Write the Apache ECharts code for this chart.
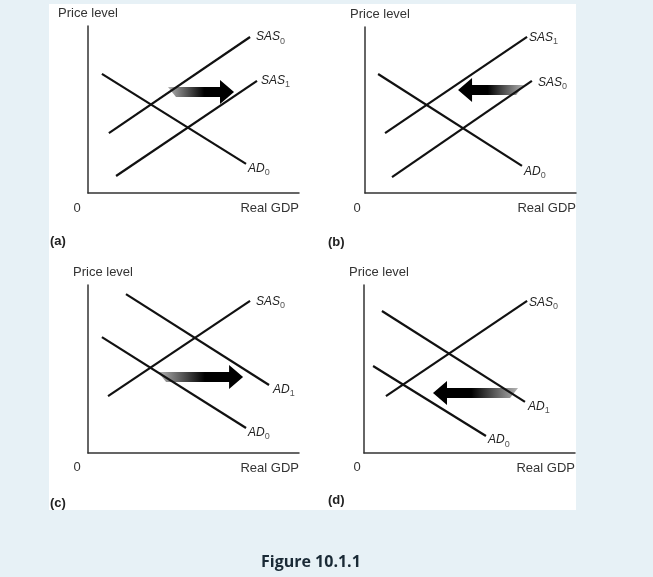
<!DOCTYPE html>
<html>
<head>
<meta charset="utf-8">
<script src="https://cdn.jsdelivr.net/npm/echarts@6/dist/echarts.min.js"></script>
<style>
  html, body { margin: 0; padding: 0; background: #e7f1f6; }
  #main { width: 653px; height: 577px; }
</style>
</head>
<body>
<div id="main"></div>
<script>
// panel (a)
const aSas0 = [[0.99, 3.59], [7.68, 9.34]];
const aSas1 = [[1.33, 1.02], [8.01, 6.71]];
const aAd0 = [[0.66, 7.13], [7.49, 1.74]];
const aArrow = [[3.98, 6.92, 6.05]]; // tail x, head x, y

// panel (b)
const bSas1 = [[0.95, 3.61], [7.68, 9.4]];
const bSas0 = [[1.28, 0.96], [7.91, 6.75]];
const bAd0 = [[0.62, 7.17], [7.44, 1.63]];
const bArrow = [[7.35, 4.41, 6.2]];

// panel (c)
const cSas0 = [[0.95, 3.39], [7.68, 9.05]];
const cAd1 = [[1.8, 9.46], [8.58, 4.05]];
const cAd0 = [[0.66, 6.9], [7.49, 1.49]];
const cArrow = [[3.51, 7.35, 4.52]];

// panel (d)
const dSas0 = [[1.04, 3.39], [7.73, 9.05]];
const dAd1 = [[0.85, 8.45], [7.63, 3.04]];
const dAd0 = [[0.43, 5.18], [5.78, 1.01]];
const dArrow = [[7.11, 3.27, 3.57]];

const panelNames = ["(a)", "(b)", "(c)", "(d)"];

const FONT = "'Liberation Sans', Arial, sans-serif";

let myChart = echarts.init(document.getElementById("main"));

const grids = [
  { left: 88, top: 26, width: 211, height: 167 },
  { left: 365, top: 27, width: 211, height: 166 },
  { left: 88, top: 285, width: 211, height: 168 },
  { left: 364, top: 285, width: 211, height: 168 },
];
const priceShift = [0, 15, 15, 15];

function xAxisFor(i) {
  return {
    type: "value", gridIndex: i, min: 0, max: 10,
    splitLine: { show: false }, axisTick: { show: false }, axisLabel: { show: false },
    axisLine: { show: true, lineStyle: { color: "#333", width: 1.5 } },
    name: "Real GDP", nameLocation: "end", nameGap: 0,
    nameTextStyle: { align: "right", verticalAlign: "top", padding: [9, 0, 0, 0],
      fontSize: 13, color: "#333", fontFamily: FONT },
  };
}
function yAxisFor(i) {
  return {
    type: "value", gridIndex: i, min: 0, max: 10,
    splitLine: { show: false }, axisTick: { show: false }, axisLabel: { show: false },
    axisLine: { show: true, lineStyle: { color: "#333", width: 1.5 } },
    name: "Price level", nameLocation: "end", nameGap: 6,
    nameTextStyle: { align: "center", padding: [0, 0, 0, priceShift[i] * 2],
      fontSize: 13, color: "#333", fontFamily: FONT },
  };
}

const labelRich = {
  m: { fontStyle: "italic", fontSize: 12, color: "#222", fontFamily: FONT },
  s: { fontSize: 9, color: "#555", fontFamily: FONT, verticalAlign: "bottom", padding: [8, 0, 0, 0] },
};

function curve(i, data, main, sub, offset) {
  return {
    type: "line", xAxisIndex: i, yAxisIndex: i, data: data,
    symbol: "none", silent: true, animation: false,
    lineStyle: { color: "#111", width: 2.2 },
    endLabel: {
      show: true, distance: 2, offset: offset,
      formatter: "{m|" + main + "}{s|" + sub + "}",
      rich: labelRich,
    },
  };
}

function arrow(i, data) {
  return {
    type: "custom", xAxisIndex: i, yAxisIndex: i, data: data, silent: true, animation: false,
    renderItem: function (params, api) {
      const tail = api.coord([api.value(0), api.value(2)]);
      const head = api.coord([api.value(1), api.value(2)]);
      const dir = head[0] > tail[0] ? 1 : -1;
      const y = tail[1];
      const sh = 5, hh = 12, hl = 14;
      const neck = head[0] - dir * hl;
      const pts = [
        [tail[0] - dir * 4, y - sh], [neck, y - sh], [neck, y - hh], [head[0], y],
        [neck, y + hh], [neck, y + sh], [tail[0] + dir * 4, y + sh],
      ];
      return {
        type: "polygon",
        shape: { points: pts },
        style: {
          fill: new echarts.graphic.LinearGradient(dir > 0 ? 0 : 1, 0, dir > 0 ? 1 : 0, 0, [
            { offset: 0, color: "#b4b4b4" },
            { offset: 0.55, color: "#000" },
            { offset: 1, color: "#000" },
          ]),
        },
      };
    },
  };
}

const zeroPos = [[77, 208], [357, 208], [77, 467], [357, 467]];
const namePos = [[50, 241], [328, 242], [50, 503], [328, 500]];

let graphic = [
  { type: "rect", z: -10, shape: { x: 49, y: 4, width: 527, height: 506 }, style: { fill: "#fff" } },
  { type: "text", x: 261, y: 554, style: {
      text: "Figure 10.1.1", font: "bold 16px 'Open Sans', sans-serif", fill: "#1a2a36" } },
];
zeroPos.forEach(function (p) {
  graphic.push({ type: "text", x: p[0], y: p[1], style: {
    text: "0", fontSize: 13, fontFamily: FONT, fill: "#333", align: "center", verticalAlign: "middle" } });
});
namePos.forEach(function (p, k) {
  graphic.push({ type: "text", x: p[0], y: p[1], style: {
    text: panelNames[k], fontSize: 13, fontWeight: "bold", fontFamily: FONT, fill: "#222", verticalAlign: "middle" } });
});

let option = {
  backgroundColor: "#e7f1f6",
  animation: false,
  grid: grids,
  xAxis: [0, 1, 2, 3].map(xAxisFor),
  yAxis: [0, 1, 2, 3].map(yAxisFor),
  graphic: graphic,
  series: [
    curve(0, aSas0, "SAS", "0", [4, 0]),
    curve(0, aSas1, "SAS", "1", [2, 0]),
    curve(0, aAd0, "AD", "0", [0, 5]),
    arrow(0, aArrow),
    curve(1, bSas1, "SAS", "1", [0, 1]),
    curve(1, bSas0, "SAS", "0", [4, 2]),
    curve(1, bAd0, "AD", "0", [0, 6]),
    arrow(1, bArrow),
    curve(2, cSas0, "SAS", "0", [4, 1]),
    curve(2, cAd1, "AD", "1", [2, 5]),
    curve(2, cAd0, "AD", "0", [0, 5]),
    arrow(2, cArrow),
    curve(3, dSas0, "SAS", "0", [0, 2]),
    curve(3, dAd1, "AD", "1", [1, 5]),
    curve(3, dAd0, "AD", "0", [0, 4]),
    arrow(3, dArrow),
  ],
};
myChart.setOption(option);
</script>
</body>
</html>
